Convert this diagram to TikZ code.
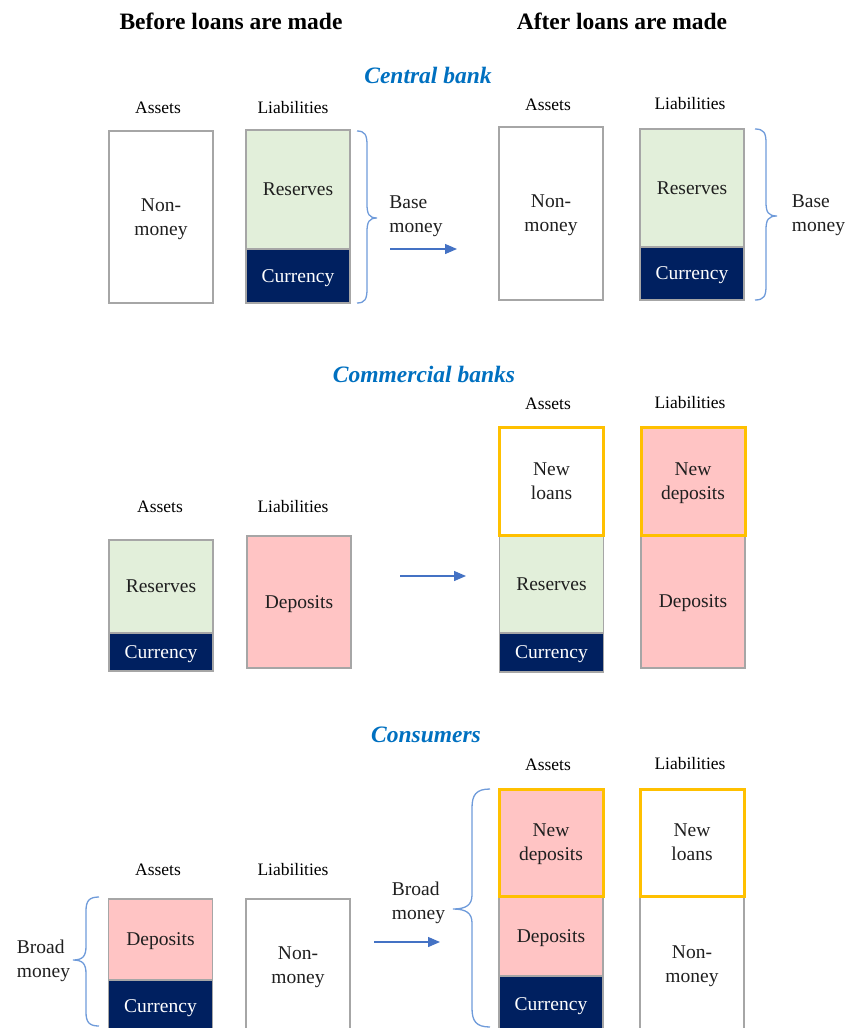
\documentclass[tikz,border=0pt]{standalone}
\usepackage{fontspec}
\setmainfont{Liberation Serif}
\usetikzlibrary{arrows.meta}
\definecolor{cgreen}{HTML}{E2EFDA}
\definecolor{cnavy}{HTML}{002060}
\definecolor{cpink}{HTML}{FFC4C4}
\definecolor{corange}{HTML}{FFC000}
\definecolor{bgray}{HTML}{A6A6A6}
\definecolor{tblue}{HTML}{0070C0}
\definecolor{ablue}{HTML}{4472C4}
\definecolor{brblue}{HTML}{6F9BDA}
\newcommand\myboxfont{\fontsize{19.5}{24}\selectfont}
\newcommand\mylblfont{\fontsize{17.5}{21}\selectfont}
\newcommand\myheadfont{\fontsize{23.5}{28}\selectfont\bfseries}
\newcommand\mytitlefont{\fontsize{23.5}{28}\selectfont\bfseries\itshape}
\tikzset{
  seg/.style={draw=bgray, line width=1.2pt, minimum width=104pt, inner sep=0pt, align=center, font=\myboxfont, text=black!88, text depth=-3pt},
  wbox/.style={seg, fill=white},
  gbox/.style={seg, fill=cgreen},
  nbox/.style={seg, fill=cnavy, text=white},
  pbox/.style={seg, fill=cpink},
  newbox/.style={draw=corange, line width=3pt},
  lbl/.style={font=\mylblfont, inner sep=0pt},
  head/.style={font=\myheadfont, inner sep=0pt},
  ttl/.style={font=\mytitlefont, text=tblue, inner sep=0pt},
  side/.style={font=\myboxfont, align=left, inner sep=0pt, text=black!88},
  flow/.style={draw=ablue, line width=1.3pt, -{Triangle[length=12pt,width=10pt]}},
  brc/.style={draw=brblue, line width=1.3pt},
}
\begin{document}
\begin{tikzpicture}[x=1pt,y=-1pt]
\useasboundingbox (0,0) rectangle (848,1028);
% headings
\node[head] (h1) at (231,21) {Before loans are made};
\node[head] (h2) at (622,21) {After loans are made};
% ===== Central bank
\node[ttl] (t1) at (428,75) {Central bank};
\node[lbl] (l1) at (158,107.5) {Assets};
\node[lbl] (l2) at (293,107.5) {Liabilities};
\node[lbl] (l3) at (548,104.5) {Assets};
\node[lbl] (l4) at (690,103.5) {Liabilities};
\node[wbox, minimum height=172pt] (cbA) at (161,217) {Non-\\money};
\node[gbox, minimum height=119pt] (cbLr) at (298,189.5) {Reserves};
\node[nbox, minimum height=54pt] (cbLc) at (298,276) {Currency};
\node[wbox, minimum height=173pt] (caA) at (551,213.5) {Non-\\money};
\node[gbox, minimum height=118pt] (caLr) at (692,188) {Reserves};
\node[nbox, minimum height=53pt] (caLc) at (692,273.5) {Currency};
\node[side] (bm1) at (416,216) {Base\\money};
\node[side] (bm2) at (818.5,215) {Base\\money};
\coordinate (a1s) at (390,249);
\coordinate (a1e) at (457,249);
\draw[flow] (a1s) -- (a1e);
\draw[brc] (357,131) .. controls (365,131) and (367,135) .. (367,145) -- (367,204)
  .. controls (367,214) and (369,218) .. (377,218) .. controls (369,218) and (367,222) .. (367,232)
  -- (367,289) .. controls (367,299) and (365,303) .. (357,303);
\draw[brc] (755,129) .. controls (764,129) and (766,133) .. (766,143) -- (766,202)
  .. controls (766,212) and (768,216) .. (777,216) .. controls (768,216) and (766,220) .. (766,230)
  -- (766,286) .. controls (766,296) and (764,300) .. (755,300);
% ===== Commercial banks
\node[ttl] (t2) at (424,374) {Commercial banks};
\node[lbl] (l5) at (160,506.5) {Assets};
\node[lbl] (l6) at (293,506.5) {Liabilities};
\node[lbl] (l7) at (548,403.5) {Assets};
\node[lbl] (l8) at (690,402.5) {Liabilities};
\node[gbox, minimum height=93pt] (mbAr) at (161,586.5) {Reserves};
\node[nbox, minimum height=38pt] (mbAc) at (161,652) {Currency};
\node[pbox, minimum height=132pt] (mbL) at (299,602) {Deposits};
\node[gbox, minimum height=98pt] (maAr) at (551.5,584) {Reserves};
\node[nbox, minimum height=39pt] (maAc) at (551.5,652.5) {Currency};
\node[pbox, minimum height=133pt] (maLd) at (693,601.5) {Deposits};
\node[wbox, newbox, minimum height=108pt] (maAn) at (551.5,481) {New\\loans};
\node[pbox, newbox, minimum height=108pt] (maLn) at (693,481) {New\\deposits};
\coordinate (a2s) at (400,576);
\coordinate (a2e) at (466,576);
\draw[flow] (a2s) -- (a2e);
% ===== Consumers
\node[ttl] (t3) at (426,735) {Consumers};
\node[lbl] (l9) at (158,869.5) {Assets};
\node[lbl] (l10) at (293,869.5) {Liabilities};
\node[lbl] (l11) at (548,764.5) {Assets};
\node[lbl] (l12) at (690,763.5) {Liabilities};
\node[pbox, minimum height=81pt] (nbAd) at (160.5,939.5) {Deposits};
\node[nbox, minimum height=52pt] (nbAc) at (160.5,1006) {Currency};
\node[wbox, minimum height=133pt] (nbL) at (298,965.5) {Non-\\money};
\node[pbox, minimum height=80pt] (naAd) at (551,936) {Deposits};
\node[nbox, minimum height=56pt] (naAc) at (551,1004) {Currency};
\node[wbox, minimum height=136pt] (naLm) at (692,964) {Non-\\money};
\node[pbox, newbox, minimum height=107pt] (naAn) at (551,842.5) {New\\deposits};
\node[wbox, newbox, minimum height=107pt] (naLn) at (692,842.5) {New\\loans};
\node[side] (br1) at (43.5,960.5) {Broad\\money};
\node[side] (br2) at (418.5,903) {Broad\\money};
\coordinate (a3s) at (374,942);
\coordinate (a3e) at (440,942);
\draw[flow] (a3s) -- (a3e);
\draw[brc] (99,897) .. controls (89,897) and (86,901) .. (86,911) -- (86,946)
  .. controls (86,956) and (83,960) .. (73,960) .. controls (83,960) and (86,964) .. (86,974)
  -- (86,1012) .. controls (86,1022) and (89,1026) .. (99,1026);
\draw[brc] (490,789) .. controls (476,789) and (472,795) .. (472,808) -- (472,895)
  .. controls (472,905) and (466,909) .. (453,909) .. controls (466,909) and (472,913) .. (472,923)
  -- (472,1008) .. controls (472,1021) and (476,1027) .. (490,1027);
\end{tikzpicture}
\end{document}
